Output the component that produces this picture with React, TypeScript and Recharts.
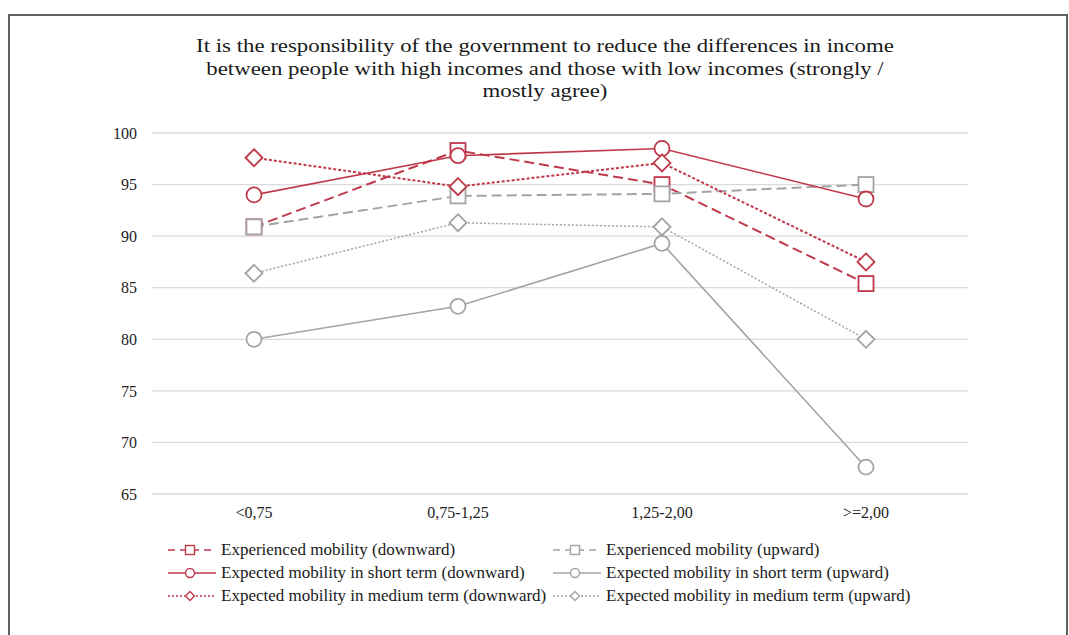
import React from "react";
import { LineChart, Line, XAxis, YAxis, CartesianGrid } from "recharts";

const categories = ["<0,75", "0,75-1,25", "1,25-2,00", ">=2,00"];
const expDown = [90.9, 98.3, 95.0, 85.4];
const expUp = [90.9, 93.9, 94.1, 95.0];
const shortDown = [94.0, 97.8, 98.5, 93.6];
const shortUp = [80.0, 83.2, 89.3, 67.6];
const medDown = [97.6, 94.8, 97.1, 87.5];
const medUp = [86.4, 91.3, 90.9, 80.0];
const yTicks = [65, 70, 75, 80, 85, 90, 95, 100];

const RED = "#c0394b";
const GREY = "#a3a3a3";
const FONT = "'Liberation Serif', 'Times New Roman', serif";

type Shape = "square" | "circle" | "diamond";

const series = [
  { key: "expDown", name: "Experienced mobility (downward)", values: expDown, color: RED, dash: "10 5", width: 2, shape: "square" as Shape },
  { key: "expUp", name: "Experienced mobility (upward)", values: expUp, color: GREY, dash: "10 5", width: 2, shape: "square" as Shape },
  { key: "shortDown", name: "Expected mobility in short term (downward)", values: shortDown, color: RED, dash: undefined, width: 1.6, shape: "circle" as Shape },
  { key: "shortUp", name: "Expected mobility in short term (upward)", values: shortUp, color: GREY, dash: undefined, width: 1.6, shape: "circle" as Shape },
  { key: "medDown", name: "Expected mobility in medium term (downward)", values: medDown, color: RED, dash: "3 2", width: 2, shape: "diamond" as Shape },
  { key: "medUp", name: "Expected mobility in medium term (upward)", values: medUp, color: GREY, dash: "2 2", width: 1.5, shape: "diamond" as Shape },
];

const data = categories.map((name, i) => {
  const row: Record<string, string | number> = { name };
  series.forEach((s) => {
    row[s.key] = s.values[i];
  });
  return row;
});

function markerEl(shape: Shape, cx: number, cy: number, size: number, color: string, sw: number, key?: string) {
  const h = size / 2;
  if (shape === "square") {
    return <rect key={key} x={cx - h} y={cy - h} width={size} height={size} fill="#fff" stroke={color} strokeWidth={sw} />;
  }
  if (shape === "circle") {
    return <circle key={key} cx={cx} cy={cy} r={h} fill="#fff" stroke={color} strokeWidth={sw} />;
  }
  return (
    <polygon
      key={key}
      points={`${cx},${cy - h} ${cx + h},${cy} ${cx},${cy + h} ${cx - h},${cy}`}
      fill="#fff"
      stroke={color}
      strokeWidth={sw}
    />
  );
}

const makeDot = (shape: Shape, color: string) => (props: any) => {
  const { cx, cy, index } = props;
  if (cx == null || cy == null) return <g key={index} />;
  const size = shape === "diamond" ? 17 : 15;
  return markerEl(shape, cx, cy, size, color, 1.8, `d${index}`);
};

function LegendItem({ s }: { s: (typeof series)[number] }) {
  const dash = s.dash ? (s.dash === "10 5" ? "7 5" : "2 2") : undefined;
  return (
    <div style={{ display: "flex", alignItems: "center", height: 23, whiteSpace: "nowrap" }}>
      <svg width={50} height={14} style={{ marginRight: 4 }}>
        <line x1={1} y1={7} x2={49} y2={7} stroke={s.color} strokeWidth={1.6} strokeDasharray={dash} />
        {markerEl(s.shape, 23, 7, 9, s.color, 1.4)}
      </svg>
      <span>{s.name}</span>
    </div>
  );
}

const titleLines = [
  "It is the responsibility of the government to reduce the differences in income",
  "between people with high incomes and those with low incomes (strongly /",
  "mostly agree)",
];

export default function App() {
  return (
    <div style={{ position: "absolute", left: 0, top: 0, width: 1069, height: 635, background: "#fff", overflow: "hidden", fontFamily: FONT }}>
      <div
        style={{
          position: "absolute",
          left: 8,
          top: 14,
          width: 1060,
          height: 630,
          boxSizing: "border-box",
          border: "2px solid #5f5f5f",
        }}
      />
      <div
        style={{
          position: "absolute",
          left: 245,
          width: 600,
          top: 35,
          textAlign: "center",
          fontSize: 19.5,
          lineHeight: "22.5px",
          color: "#1a1a1a",
          transform: "scaleX(1.17)",
          transformOrigin: "center top",
          whiteSpace: "nowrap",
        }}
      >
        {titleLines.map((t) => (
          <div key={t}>{t}</div>
        ))}
      </div>
      <div style={{ position: "absolute", left: 0, top: 0 }}>
        <LineChart width={1069} height={635} data={data} margin={{ top: 133, right: 101, bottom: 111, left: 100 }}>
          <CartesianGrid vertical={false} stroke="#dadada" strokeWidth={1.3} />
          <XAxis
            dataKey="name"
            axisLine={false}
            tickLine={false}
            padding={{ left: 102, right: 102 }}
            height={30}
            tickMargin={7}
            tick={{ fill: "#222", fontSize: 16, fontFamily: FONT }}
          />
          <YAxis
            domain={[65, 100]}
            ticks={yTicks}
            axisLine={false}
            tickLine={false}
            width={52}
            tickMargin={9}
            tick={{ fill: "#222", fontSize: 16, fontFamily: FONT }}
          />
          {series.map((s) => (
            <Line
              key={s.key}
              dataKey={s.key}
              name={s.name}
              type="linear"
              stroke={s.color}
              strokeWidth={s.width}
              strokeDasharray={s.dash}
              dot={makeDot(s.shape, s.color)}
              activeDot={false}
              isAnimationActive={false}
            />
          ))}
        </LineChart>
      </div>
      <div
        style={{
          position: "absolute",
          left: 167,
          top: 538,
          display: "grid",
          gridTemplateColumns: "385px auto",
          fontSize: 17,
          color: "#1a1a1a",
        }}
      >
        {series.map((s) => (
          <LegendItem key={s.key} s={s} />
        ))}
      </div>
    </div>
  );
}
